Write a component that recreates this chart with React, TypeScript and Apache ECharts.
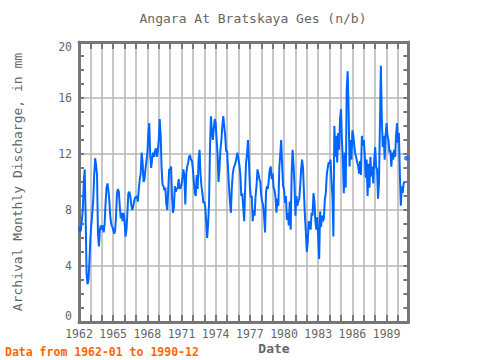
import React, { useEffect, useRef } from "react";
import * as echarts from "echarts";

const startYear = 1962;
const tickYears = [1962, 1965, 1968, 1971, 1974, 1977, 1980, 1983, 1986, 1989];
const yTicks = [0, 4, 8, 12, 16, 20];

const values1962to1969: (number | null)[] = [
  6.8, 6.4, 6.6, 7.3, 8.0, 10.0, 10.9, 7.5, 3.4, 2.7, 3.0, 4.4,
  6.0, 7.0, 7.8, 8.7, 10.5, 11.7, 11.2, 10.5, 6.3, 5.4, 6.6, 6.9,
  6.6, 6.9, 6.4, 7.0, 8.5, 9.6, 9.9, 9.4, 8.6, 7.5, 7.0, 6.8,
  6.6, 6.3, 6.5, 7.5, 9.2, 9.5, 9.3, 8.2, 7.4, 7.8, 7.2, 7.8,
  7.2, 6.1, 6.6, 7.8, 9.2, 9.3, 9.0, 8.4, 8.0, 8.2, 8.6, 8.9,
  8.9, 9.0, 8.6, 9.5, 10.2, 10.6, 12.1, 11.4, 10.0, 10.2, 10.9, 11.5,
  12.0, 13.4, 14.2, 12.0, 11.0, 11.6, 12.1, 11.8, 12.2, 12.4, 11.8, 12.2,
  13.0, 14.5, 13.4, 11.0, 9.8, 9.7, 9.4, 9.6, 8.4, 8.0, 9.5, 10.9,
];
const values1970to1979: (number | null)[] = [
  10.9, 11.1, 9.0, 7.8, 8.2, 9.7, 9.3, 9.5, 9.6, 10.2, 9.5, 9.6,
  9.8, 10.3, 10.9, 10.4, 8.4, 10.6, 11.1, 11.4, 11.8, 11.9, 11.6, 11.5,
  10.9, 10.0, 9.2, 9.0, 10.5, 9.5, 11.6, 12.3, 10.6, 9.7, 9.2, 8.5,
  8.6, 8.2, 7.2, 6.0, 7.0, 8.5, 12.5, 14.7, 13.6, 13.0, 13.8, 14.5,
  14.2, 13.0, 12.0, 10.0, 11.0, 12.3, 13.0, 14.0, 14.7, 14.0, 13.3, 12.2,
  12.2, 11.0, 9.7, 8.6, 7.8, 9.6, 10.6, 11.0, 11.2, 11.4, 11.8, 12.1,
  11.6, 11.2, 10.5, 9.0, 9.2, 8.2, 7.2, 9.5, 11.4, 12.0, 13.0, 11.5,
  9.7, 8.9, 9.0, 7.2, 8.0, 7.6, 9.0, 9.7, 10.9, 10.6, 10.2, 10.0,
  9.0, 8.6, 8.3, 7.5, 6.4, 9.3, 9.7, 9.5, 10.2, 10.9, 11.1, 10.2,
  10.6, 9.6, 9.4, 8.9, 7.8, 8.8, 8.3, 11.0, 12.0, 13.0, 11.2, 9.7,
];
const values1980to1990: (number | null)[] = [
  9.5, 8.5, 9.0, 7.3, 7.8, 6.9, 8.6, 6.6, 10.6, 12.3, 11.2, 9.8,
  7.6, 9.0, 8.3, 8.6, 8.8, 9.7, 10.9, 11.6, 11.0, 9.2, 7.6, 6.4,
  5.0, 5.8, 7.2, 7.0, 6.6, 7.8, 7.6, 9.2, 8.6, 7.2, 6.6, 7.5,
  6.0, 4.5, 7.9, 6.8, 7.6, 7.2, 7.4, 8.8, 9.2, 10.5, 11.0, 11.4,
  11.3, 11.6, 10.0, 9.0, 6.1, 14.0, 11.8, 13.3, 11.4, 13.5, 12.3, 14.5,
  15.2, 13.0, 11.5, 9.2, 12.1, 9.6, 16.6, 17.9, 15.3, 11.1, 13.0, 11.6,
  13.7, 13.3, 12.6, 12.0, 11.8, 11.4, 11.2, 10.6, 11.5, 10.5, 13.3, 12.6,
  13.0, 12.0, 10.3, 11.6, 9.0, 11.3, 9.6, 11.8, 10.4, 11.1, 9.9, 11.6,
  12.5, 11.1, 10.9, 8.8, 9.9, 14.0, 18.3, 14.5, 12.5, 13.3, 11.6, 13.3,
  14.2, 13.3, 13.0, 12.1, 12.3, 11.1, 12.1, 11.6, 12.3, 11.8, 13.3, 14.2,
  12.8, 13.5, 10.6, 8.3, 9.7, 9.2, 9.9, 10.0, null, 11.7, null, null,
];

const FONT = "DejaVu Sans Mono";
const GRID_C = "#b4b4b4";
const FRAME_C = "#777777";
const TEXT_C = "#666666";
const LINE_C = "#0066ff";

export default function App() {
  const ref = useRef<HTMLDivElement>(null);
  useEffect(() => {
    if (!ref.current) return;
    const chart = echarts.init(ref.current, undefined, { renderer: "svg" });
    const all = [...values1962to1969, ...values1970to1979, ...values1980to1990];
    const lineData = all.map((v, i) => [startYear + i / 12, v]);
    const isolated = all
      .map((v, i) => ({ v, i }))
      .filter(({ v, i }) => v !== null && (i === 0 || all[i - 1] === null) && (i === all.length - 1 || all[i + 1] === null))
      .map(({ v, i }) => [startYear + i / 12, v]);
    const xMax = startYear + (all.length - 1) / 12;
    const yMin = yTicks[0];
    const yMax = yTicks[yTicks.length - 1];

    const xBase = {
      type: "value" as const,
      min: startYear,
      max: xMax,
      interval: 1,
      axisLine: { show: true, onZero: false, lineStyle: { color: FRAME_C, width: 3 } },
      axisTick: { show: true, inside: true, length: 7, lineStyle: { color: FRAME_C, width: 2 } },
    };
    const yBase = {
      type: "value" as const,
      min: yMin,
      max: yMax,
      interval: 4,
      axisLine: { show: true, onZero: false, lineStyle: { color: FRAME_C, width: 3 } },
      axisTick: { show: true, inside: true, length: 5, lineStyle: { color: FRAME_C, width: 2 } },
      minorTick: { show: true, splitNumber: 4, length: 5, lineStyle: { color: FRAME_C, width: 2 } },
    };
    const labelText = { color: TEXT_C, fontFamily: FONT, fontSize: 11.5 };

    chart.setOption({
      animation: false,
      grid: { left: 79, top: 42, width: 329.4, height: 280 },
      xAxis: [
        {
          ...xBase,
          position: "bottom",
          splitLine: { show: true, lineStyle: { color: GRID_C, width: 1.5 } },
          axisLabel: {
            show: true,
            margin: 6,
            ...labelText,
            showMaxLabel: false,
            formatter: (v: number) => {
              const r = Math.round(v);
              return Math.abs(v - r) < 1e-6 && tickYears.includes(r) ? String(r) : "";
            },
          },
        },
        {
          ...xBase,
          position: "top",
          splitLine: { show: false },
          axisLabel: { show: false },
        },
      ],
      yAxis: [
        {
          ...yBase,
          position: "left",
          splitLine: { show: true, lineStyle: { color: GRID_C, width: 1.5 } },
          axisLabel: {
            show: true,
            margin: 7,
            ...labelText,
            formatter: (v: number) => {
              if (v === yMin) return `{lo|${v}}`;
              if (v === yMax) return `{hi|${v}}`;
              return `{n|${v}}`;
            },
            rich: {
              n: { ...labelText },
              lo: { ...labelText, padding: [0, 0, 12, 0] },
              hi: { ...labelText, padding: [9, 0, 0, 0] },
            },
          },
        },
        {
          ...yBase,
          position: "right",
          splitLine: { show: false },
          axisLabel: { show: false },
        },
      ],
      series: [
        {
          type: "line",
          data: lineData,
          showSymbol: false,
          symbol: "none",
          connectNulls: false,
          lineStyle: { color: LINE_C, width: 2 },
          z: 5,
        },
        {
          type: "scatter",
          data: isolated,
          symbol: "circle",
          symbolSize: 5,
          itemStyle: { color: LINE_C },
          z: 5,
        },
      ],
      graphic: [
        {
          type: "text",
          x: 253,
          y: 18,
          style: {
            text: "Angara At Bratskaya Ges (n/b)",
            fill: TEXT_C,
            font: `13px '${FONT}'`,
            align: "center",
            verticalAlign: "middle",
          },
        },
        {
          type: "text",
          x: 17,
          y: 182,
          rotation: Math.PI / 2,
          style: {
            text: "Archival Monthly Discharge, in mm",
            fill: TEXT_C,
            font: `13px '${FONT}'`,
            align: "center",
            verticalAlign: "middle",
          },
        },
        {
          type: "text",
          x: 274,
          y: 348,
          style: {
            text: "Date",
            fill: TEXT_C,
            font: `bold 13px '${FONT}'`,
            align: "center",
            verticalAlign: "middle",
          },
        },
        {
          type: "text",
          x: 5,
          y: 352,
          style: {
            text: "Data from 1962-01 to 1990-12",
            fill: "#ff6600",
            font: `bold 11.5px '${FONT}'`,
            align: "left",
            verticalAlign: "middle",
          },
        },
      ],
    });
    return () => chart.dispose();
  }, []);
  return <div ref={ref} style={{ width: 480, height: 360, position: "absolute", left: 0, top: 0 }} />;
}
